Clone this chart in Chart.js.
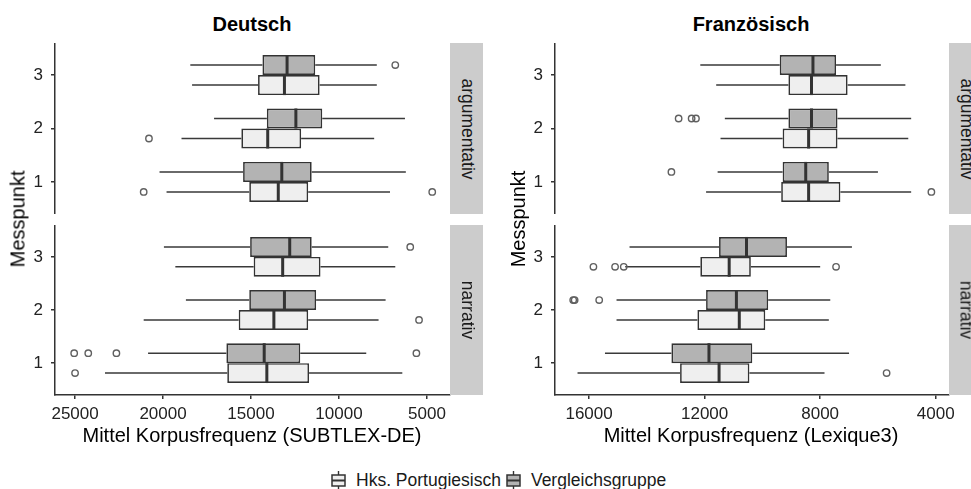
<!DOCTYPE html>
<html lang="de">
<head>
<meta charset="UTF-8">
<title>Mittel Korpusfrequenz</title>
<script src="https://cdn.jsdelivr.net/npm/chart.js"></script>
<style>
  body { margin: 0; background: #fff; font-family: "Liberation Sans", Arial, sans-serif; }
  #wrap { position: relative; width: 971px; height: 489px; overflow: hidden; background: #fff; }
  canvas { position: absolute; }
  .txt { position: absolute; transform: translate(-50%, -50%); white-space: nowrap; color: #000; }
  .title { font-weight: bold; font-size: 20px; }
  .axis-title { font-size: 20px; }
  .ylab { transform: translate(-50%, -50%) rotate(-90deg); }
  .strip { position: absolute; background: #cccccc; width: 33px; }
  .strip span { position: absolute; left: 50%; top: 50%; transform: translate(-50%, -50%) rotate(90deg);
                font-size: 17.5px; color: #1a1a1a; white-space: nowrap; }
  #legend { position: absolute; left: 331px; top: 470px; display: flex; align-items: center;
            font-size: 17.5px; color: #1a1a1a; white-space: nowrap; }
  #legend svg { margin-right: 10px; }
  #legend .item { display: flex; align-items: center; margin-right: 5px; }
</style>
</head>
<body>
<div id="wrap">
  <div class="txt title" style="left:252px; top:24px;">Deutsch</div>
  <div class="txt title" style="left:751px; top:24px;">Französisch</div>

  <canvas id="de-arg" width="460" height="171" style="left:20px; top:43px;"></canvas>
  <canvas id="de-nar" width="460" height="200" style="left:20px; top:225px;"></canvas>
  <canvas id="fr-arg" width="459" height="171" style="left:520px; top:43px;"></canvas>
  <canvas id="fr-nar" width="459" height="200" style="left:520px; top:225px;"></canvas>

  <div class="strip" style="left:450px; top:43px; height:171px;"><span>argumentativ</span></div>
  <div class="strip" style="left:450px; top:225px; height:170px;"><span>narrativ</span></div>
  <div class="strip" style="left:949px; top:43px; height:171px;"><span>argumentativ</span></div>
  <div class="strip" style="left:949px; top:225px; height:170px;"><span>narrativ</span></div>

  <div class="txt axis-title ylab" style="left:18px; top:219px;">Messpunkt</div>
  <div class="txt axis-title ylab" style="left:518px; top:219px;">Messpunkt</div>
  <div class="txt axis-title" style="left:252px; top:435px;">Mittel Korpusfrequenz (SUBTLEX-DE)</div>
  <div class="txt axis-title" style="left:751px; top:435px;">Mittel Korpusfrequenz (Lexique3)</div>

  <div id="legend">
    <div class="item">
      <svg width="15" height="19" viewBox="0 0 15 19">
        <line x1="7.5" y1="0" x2="7.5" y2="4" stroke="#333" stroke-width="1.4"/>
        <rect x="1" y="4" width="13" height="11" fill="#efefef" stroke="#333" stroke-width="1.5"/>
        <line x1="1" y1="9.5" x2="14" y2="9.5" stroke="#333" stroke-width="2"/>
        <line x1="7.5" y1="15" x2="7.5" y2="19" stroke="#333" stroke-width="1.4"/>
      </svg>Hks. Portugiesisch
    </div>
    <div class="item">
      <svg width="15" height="19" viewBox="0 0 15 19">
        <line x1="7.5" y1="0" x2="7.5" y2="4" stroke="#333" stroke-width="1.4"/>
        <rect x="1" y="4" width="13" height="11" fill="#b3b3b3" stroke="#333" stroke-width="1.5"/>
        <line x1="1" y1="9.5" x2="14" y2="9.5" stroke="#333" stroke-width="2"/>
        <line x1="7.5" y1="15" x2="7.5" y2="19" stroke="#333" stroke-width="1.4"/>
      </svg>Vergleichsgruppe
    </div>
  </div>
</div>

<script>
  // Messpunkte (y-Kategorien)
  const messpunkte = [1, 2, 3];

  // je Messpunkt 1,2,3: [unterer Whisker, Q1, Median, Q3, oberer Whisker]
  const deArgHks = [[7100, 11750, 13450, 15100, 19800], [8000, 12150, 14050, 15550, 18950], [7850, 11100, 13100, 14600, 18350]];
  const deArgHksOut = [[4700, 21100], [20800], []];
  const deArgVgl = [[6200, 11550, 13250, 15450, 20200], [6250, 10950, 12450, 14100, 17100], [7850, 11350, 12950, 14350, 18450]];
  const deArgVglOut = [[], [], [6800]];

  const deNarHks = [[6400, 11700, 14100, 16350, 23300], [7750, 11750, 13700, 15700, 21100], [6800, 11050, 13200, 14850, 19300]];
  const deNarHksOut = [[25000], [5450], []];
  const deNarVgl = [[8450, 12200, 14250, 16400, 20850], [7350, 11300, 13100, 15100, 18700], [7200, 11550, 12800, 15050, 19950]];
  const deNarVglOut = [[25050, 24250, 22650, 5600], [], [5950]];

  const frArgHks = [[4850, 7300, 8400, 9350, 11950], [4950, 7400, 8400, 9300, 11450], [5050, 7050, 8300, 9100, 11600]];
  const frArgHksOut = [[4150], [], []];
  const frArgVgl = [[6000, 7700, 8500, 9300, 11550], [4850, 7400, 8300, 9100, 11300], [5900, 7450, 8250, 9400, 12150]];
  const frArgVglOut = [[13150], [12900, 12450, 12300], []];

  const frNarHks = [[7850, 10450, 11500, 12850, 16400], [7700, 9900, 10800, 12250, 15050], [8000, 10400, 11150, 12150, 14750]];
  const frNarHksOut = [[5700], [], [15850, 15100, 14800, 7450]];
  const frNarVgl = [[7000, 10350, 11850, 13150, 15450], [7650, 9800, 10900, 11950, 15050], [6900, 9150, 10550, 11500, 14600]];
  const frNarVglOut = [[], [16550, 16500, 15650], []];

  // x-Achsen
  const deTicks = [5000, 10000, 15000, 20000, 25000];
  const frTicks = [4000, 8000, 12000, 16000];

  const ink = '#333333';

  // Whisker, Median und Ausreißer zeichnen
  const boxplotPlugin = {
    id: 'boxplot',
    beforeDatasetsDraw(chart) {
      const ctx = chart.ctx;
      const xs = chart.scales.x;
      ctx.save();
      ctx.strokeStyle = '#3a3a3a';
      ctx.lineWidth = 1.5;
      chart.data.datasets.forEach((ds, i) => {
        chart.getDatasetMeta(i).data.forEach((bar, j) => {
          const s = ds.stats[j];
          ctx.beginPath();
          ctx.moveTo(xs.getPixelForValue(s[0]), bar.y);
          ctx.lineTo(xs.getPixelForValue(s[1]), bar.y);
          ctx.moveTo(xs.getPixelForValue(s[3]), bar.y);
          ctx.lineTo(xs.getPixelForValue(s[4]), bar.y);
          ctx.stroke();
        });
      });
      ctx.restore();
    },
    afterDatasetsDraw(chart) {
      const ctx = chart.ctx;
      const xs = chart.scales.x;
      ctx.save();
      chart.data.datasets.forEach((ds, i) => {
        chart.getDatasetMeta(i).data.forEach((bar, j) => {
          const s = ds.stats[j];
          const mx = xs.getPixelForValue(s[2]);
          ctx.strokeStyle = ink;
          ctx.lineWidth = 3;
          ctx.beginPath();
          ctx.moveTo(mx, bar.y - bar.height / 2);
          ctx.lineTo(mx, bar.y + bar.height / 2);
          ctx.stroke();
          ctx.strokeStyle = '#606060';
          ctx.lineWidth = 1.4;
          ds.outliers[j].forEach(v => {
            ctx.beginPath();
            ctx.arc(xs.getPixelForValue(v), bar.y, 3.2, 0, Math.PI * 2);
            ctx.stroke();
          });
        });
      });
      ctx.restore();
    }
  };

  function makePanel(id, hks, hksOut, vgl, vglOut, xMin, xMax, xTicks, showX) {
    const toBars = stats => messpunkte.map((m, i) => ({ x: [stats[i][1], stats[i][3]], y: m }));
    return new Chart(document.getElementById(id), {
      type: 'bar',
      data: {
        datasets: [
          { label: 'Vergleichsgruppe', data: toBars(vgl), stats: vgl, outliers: vglOut, backgroundColor: '#b3b3b3' },
          { label: 'Hks. Portugiesisch', data: toBars(hks), stats: hks, outliers: hksOut, backgroundColor: '#efefef' }
        ]
      },
      options: {
        indexAxis: 'y',
        responsive: false,
        animation: false,
        events: [],
        layout: { padding: { right: 30 } },
        datasets: {
          bar: { categoryPercentage: 0.75, barPercentage: 1, borderColor: ink, borderWidth: 1.7, borderSkipped: false }
        },
        plugins: { legend: { display: false }, tooltip: { enabled: false } },
        scales: {
          x: {
            type: 'linear',
            reverse: true,
            min: xMin,
            max: xMax,
            display: showX,
            afterBuildTicks: s => { s.ticks = xTicks.map(v => ({ value: v })); },
            afterFit: s => { s.height = showX ? 30 : 0; },
            ticks: {
              autoSkip: false,
              maxRotation: 0,
              padding: 5,
              color: '#222',
              font: { family: 'Liberation Sans', size: 17 },
              callback: v => String(v)
            },
            grid: { drawOnChartArea: false, drawTicks: true, tickLength: 4, color: ink, lineWidth: 1.5 },
            border: { display: true, color: ink, width: 1.5 }
          },
          y: {
            type: 'linear',
            offset: false,
            min: 0.4,
            max: 3.6,
            afterBuildTicks: s => { s.ticks = messpunkte.map(v => ({ value: v })); },
            afterFit: s => { s.width = 35; s.paddingTop = 0; s.paddingBottom = 0; },
            ticks: {
              padding: 8,
              color: '#222',
              font: { family: 'Liberation Sans', size: 17 },
              callback: v => String(v)
            },
            grid: { offset: false, drawOnChartArea: false, drawTicks: true, tickLength: 4, color: ink, lineWidth: 1.5 },
            border: { display: true, color: ink, width: 1.5 }
          }
        }
      },
      plugins: [boxplotPlugin]
    });
  }

  makePanel('de-arg', deArgHks, deArgHksOut, deArgVgl, deArgVglOut, 3690, 26140, deTicks, false);
  makePanel('de-nar', deNarHks, deNarHksOut, deNarVgl, deNarVglOut, 3690, 26140, deTicks, true);
  makePanel('fr-arg', frArgHks, frArgHksOut, frArgVgl, frArgVglOut, 3540, 17180, frTicks, false);
  makePanel('fr-nar', frNarHks, frNarHksOut, frNarVgl, frNarVglOut, 3540, 17180, frTicks, true);
</script>
</body>
</html>
